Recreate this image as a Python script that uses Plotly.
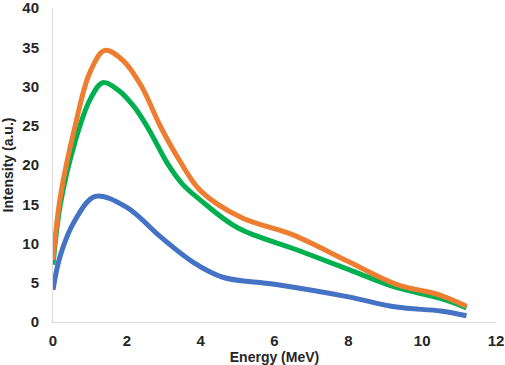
import plotly.graph_objects as go

orange_x = [0, 0.2, 0.6, 1.0, 1.4, 1.9, 2.4, 2.9, 3.4, 4.0, 5.1, 6.5, 8.0, 9.3, 10.5, 11.2]
orange_y = [7.9, 16, 25, 31.8, 34.6, 33.3, 30, 25, 20.8, 16.7, 13.3, 11.1, 7.7, 4.8, 3.4, 2.0]

green_x = [0, 0.2, 0.6, 1.0, 1.35, 1.75, 2.2, 2.6, 3.1, 3.5, 4.0, 5.0, 6.6, 8.0, 9.3, 10.5, 11.2]
green_y = [7.3, 15, 23, 28.3, 30.5, 29.6, 27.4, 24.5, 20.2, 17.6, 15.5, 12.0, 9.2, 6.7, 4.4, 3.0, 1.8]

blue_x = [0, 0.2, 0.6, 1.15, 2.0, 2.9, 3.8, 4.6, 6.0, 8.0, 9.3, 10.5, 11.2]
blue_y = [4.1, 8.5, 13, 16, 14.6, 10.9, 7.6, 5.7, 4.8, 3.2, 1.9, 1.4, 0.8]

x_ticks = [0, 2, 4, 6, 8, 10, 12]
y_ticks = [0, 5, 10, 15, 20, 25, 30, 35, 40]

fig = go.Figure()
for xs, ys, col in [(blue_x, blue_y, "#4472C4"),
                    (green_x, green_y, "#00B050"),
                    (orange_x, orange_y, "#ED7D31")]:
    fig.add_trace(go.Scatter(x=xs, y=ys, mode="lines",
                             line=dict(color=col, width=5, shape="spline", smoothing=1.0),
                             showlegend=False, cliponaxis=False))

font_family = "Liberation Sans, Arial, sans-serif"
fig.update_layout(
    width=505, height=365,
    margin=dict(l=53, r=9, t=8, b=43),
    paper_bgcolor="white", plot_bgcolor="white",
    font=dict(family=font_family, color="#262626"),
    xaxis=dict(range=[0, 12], tickvals=x_ticks, showgrid=False, zeroline=False,
               showline=True, linecolor="#D9D9D9", linewidth=1, automargin=False,
               tickfont=dict(size=15, family=font_family, weight="bold"),
               ticks="", ticklabelstandoff=5, ticklabeloverflow="allow",
               title=dict(text="<b>Energy (MeV)</b>", font=dict(size=14), standoff=4)),
    yaxis=dict(range=[0, 40], tickvals=y_ticks, showgrid=False, zeroline=False,
               showline=True, linecolor="#D9D9D9", linewidth=1, automargin=False,
               tickfont=dict(size=15, family=font_family, weight="bold"),
               ticks="", ticklabelstandoff=10, ticklabeloverflow="allow",
               title=dict(text="<b>Intensity (a.u.)</b>", font=dict(size=14), standoff=6)),
)
fig.write_html("out.html", config={"displayModeBar": False},
               post_script="document.body.style.margin='0';document.body.style.overflow='hidden';")
